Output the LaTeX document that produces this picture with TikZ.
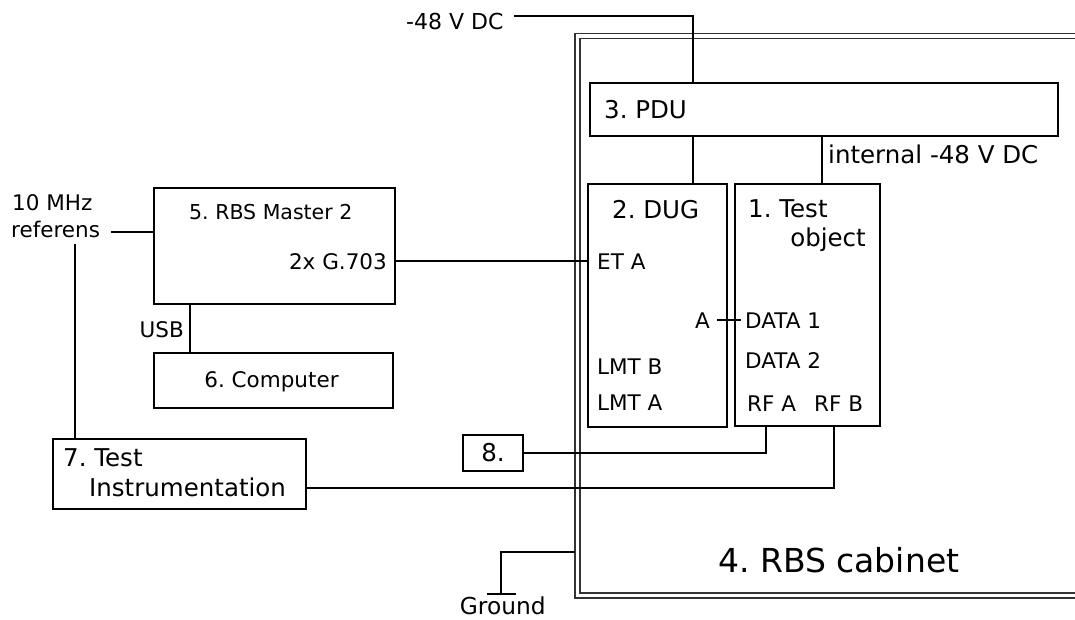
\documentclass[tikz,border=0pt]{standalone}
\usepackage{fontspec}
\setmainfont{DejaVu Sans}
\frenchspacing
\begin{document}
\begin{tikzpicture}[x=1pt,y=-1pt,
  box/.style={draw, line width=2pt, inner sep=0pt, anchor=north west},
  wire/.style={line width=2pt},
  cab/.style={line width=1.5pt, draw=black!80},
  lbl/.style={inner sep=0pt, text height=15.7pt, text depth=0pt, font=\fontsize{21.5}{24}\selectfont},
  hd/.style={inner sep=0pt, text height=17.9pt, text depth=0pt, font=\fontsize{24.5}{28}\selectfont}]
\useasboundingbox (0,0) rectangle (1075,619);

% cabinet (double line, open to the right)
\draw[cab] (1075,33.5) -- (575,33.5) -- (575,598) -- (1075,598);
\draw[cab] (1075,38.5) -- (580,38.5) -- (580,593) -- (1075,593);

% boxes
\node[box, minimum width=468pt, minimum height=53pt] (pdu) at (589,82) {};
\node[box, minimum width=139pt, minimum height=243pt] (dug) at (587,183) {};
\node[box, minimum width=145pt, minimum height=242pt] (tobj) at (734,183) {};
\node[box, minimum width=241pt, minimum height=116pt] (rbs) at (153,187) {};
\node[box, minimum width=239pt, minimum height=55pt] (comp) at (153,352) {};
\node[box, minimum width=253pt, minimum height=70pt] (instr) at (52,438) {};
\node[box, minimum width=60pt, minimum height=36pt] (eight) at (462,434) {};

% texts
\node[lbl, anchor=west, text height=16pt, font=\fontsize{22}{24}\selectfont] (dc) at (406,21.5) {-48 V DC};
\node[hd, anchor=west] (pdut) at (604,110) {3. PDU};
\node[hd, anchor=west] (intdc) at (828,155) {internal -48 V DC};
\node[lbl, anchor=west] (mhz) at (12,203) {10 MHz};
\node[lbl, anchor=west] (ref) at (11,230) {referens};
\node[lbl, anchor=west, text height=15pt, font=\fontsize{20.5}{24}\selectfont] (rbst) at (189,212) {5. RBS Master 2};
\node[lbl, anchor=east] (g703) at (387,262) {2x G.703};
\node[lbl, anchor=east] (usb) at (184,330) {USB};
\node[lbl] (compt) at (271.5,380) {6. Computer};
\node[hd, anchor=west] (dugt) at (612,210) {2. DUG};
\node[lbl, anchor=west] (eta) at (597,262) {ET A};
\node[lbl, anchor=east] (pa) at (710,320.5) {A};
\node[lbl, anchor=west] (lmtb) at (597,367) {LMT B};
\node[lbl, anchor=west] (lmta) at (597,403) {LMT A};
\node[hd, anchor=west] (tt1) at (748,209) {1. Test};
\node[hd, anchor=east] (tt2) at (866,238) {object};
\node[lbl, anchor=west] (d1) at (745,320.5) {DATA 1};
\node[lbl, anchor=west] (d2) at (745,361) {DATA 2};
\node[lbl, anchor=west] (rfa) at (747,404) {RF A};
\node[lbl, anchor=west] (rfb) at (814,404) {RF B};
\node[hd] (eightt) at (eight.center) {8.};
\node[hd, anchor=west] (it1) at (63,458) {7. Test};
\node[hd, anchor=west] (it2) at (89,488) {Instrumentation};
\node[lbl, anchor=west, text height=24pt, font=\fontsize{33}{38}\selectfont] (cabt) at (718,560) {4. RBS cabinet};
\node[lbl, text height=17pt, font=\fontsize{23.3}{26}\selectfont] (gnd) at (502.7,606) {Ground};

% reference coordinates
\coordinate (dcs) at (514,16);
\coordinate (px1) at (693,0);
\coordinate (px2) at (822,0);
\coordinate (refs) at (111,232);
\coordinate (refv) at (75,244);
\coordinate (gy) at (0,261);
\coordinate (usbx) at (190,0);
\coordinate (as) at (717,320);
\coordinate (ae) at (741,320);
\coordinate (rfax) at (766,0);
\coordinate (rfbx) at (834,0);
\coordinate (iy) at (0,488);
\coordinate (cabl) at (575,552);
\coordinate (gx) at (501,594);

% connectors
\draw[wire] (dcs) -| (px1 |- pdu.north);
\draw[wire] (px1 |- pdu.south) -- (px1 |- dug.north);
\draw[wire] (px2 |- pdu.south) -- (px2 |- tobj.north);
\draw[wire] (refs) -- (refs -| rbs.west);
\draw[wire] (refv) -- (refv |- instr.north);
\draw[wire] (rbs.east |- gy) -- (dug.west |- gy);
\draw[wire] (usbx |- rbs.south) -- (usbx |- comp.north);
\draw[wire] (as) -- (ae);
\draw[wire] (eight.east) -| (rfax |- tobj.south);
\draw[wire] (instr.east |- iy) -| (rfbx |- tobj.south);
\draw[wire] (cabl) -| (gx);
\draw[wire] ([xshift=-14pt]gx) -- ([xshift=15pt]gx);
\end{tikzpicture}
\end{document}
